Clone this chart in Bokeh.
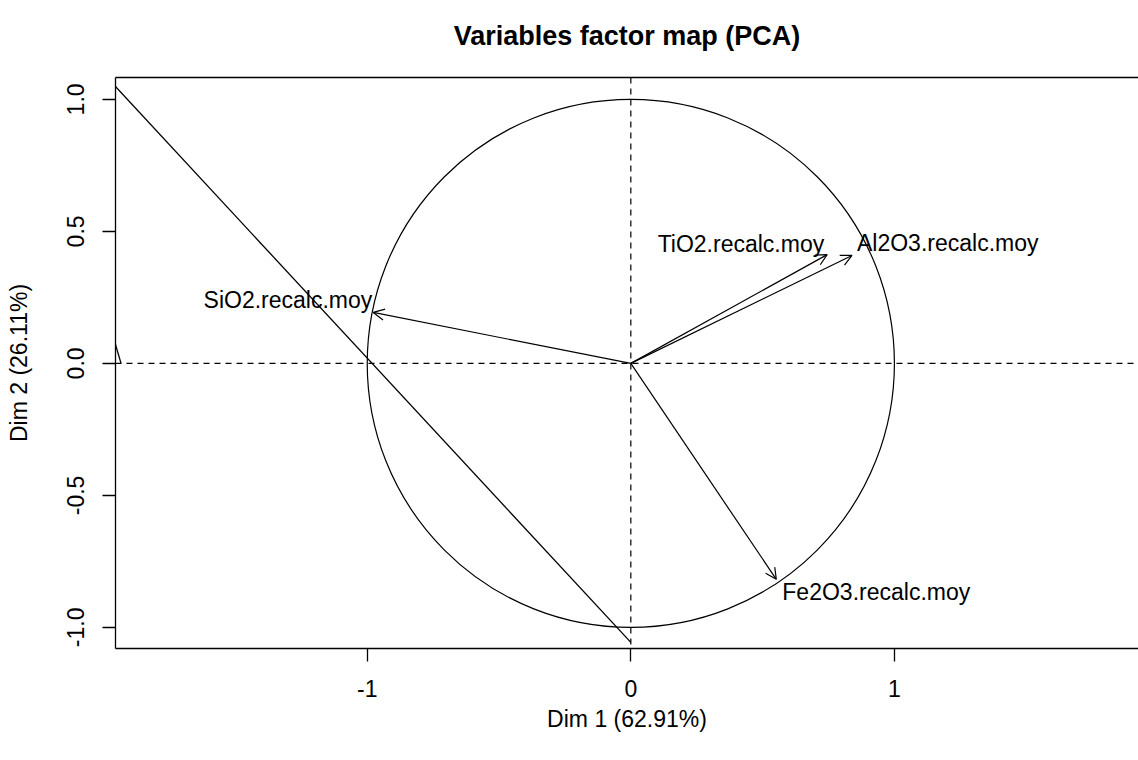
from bokeh.plotting import figure
from bokeh.models import (Range1d, Span, Arrow, OpenHead, Label, Title,
                          LinearAxis, FixedTicker)
from bokeh.embed import file_html
from bokeh.resources import INLINE

# ---- data ----
variables = ["SiO2.recalc.moy", "TiO2.recalc.moy", "Al2O3.recalc.moy", "Fe2O3.recalc.moy"]
dim1 = [-0.977, 0.745, 0.839, 0.552]
dim2 = [0.193, 0.412, 0.409, -0.818]
x_ticks = [-1, 0, 1]
y_ticks = [-1.0, -0.5, 0.0, 0.5, 1.0]
y_tick_labels = ["-1.0", "-0.5", "0.0", "0.5", "1.0"]
diag_x = [-1.96, 0.0]
diag_y = [1.054, -1.057]
stub_x = [-1.962, -1.934]
stub_y = [0.095, 0.0]
title_text = "Variables factor map (PCA)"
xlab = "Dim 1 (62.91%)"
ylab = "Dim 2 (26.11%)"

# ---- styles ----
FONT = "Liberation Sans"
FS = "23px"
label_align = ["right", "right", "left", "left"]
label_dx = [-1, -3, 5, 6]
label_dy = [12, 11, 12, -13]

p = figure(width=1138, height=752, output_backend="svg", toolbar_location=None,
           x_range=Range1d(-1.955, 1.926), y_range=Range1d(-1.080, 1.083),
           min_border_left=115, min_border_right=0, min_border_top=77,
           min_border_bottom=104)
p.xgrid.visible = False
p.ygrid.visible = False
p.outline_line_color = None
p.background_fill_color = "white"
p.border_fill_color = "white"

p.title.text = title_text
p.title.align = "center"
p.title.offset = 5
p.title.text_font = FONT
p.title.text_font_style = "bold"
p.title.text_font_size = "27px"
p.title.text_color = "black"
p.title.standoff = 37

for ax in (p.xaxis[0], p.yaxis[0]):
    ax.axis_line_color = "black"
    ax.axis_line_width = 1.3
    ax.major_tick_line_color = "black"
    ax.major_tick_line_width = 1.3
    ax.major_tick_out = 13
    ax.major_tick_in = 0
    ax.minor_tick_line_color = None
    ax.major_label_text_font = FONT
    ax.major_label_text_font_size = FS
    ax.major_label_text_color = "black"
    ax.axis_label_text_font = FONT
    ax.axis_label_text_font_style = "normal"
    ax.axis_label_text_font_size = FS
    ax.axis_label_text_color = "black"

p.xaxis[0].ticker = FixedTicker(ticks=x_ticks)
p.xaxis[0].major_label_overrides = {t: str(t) for t in x_ticks}
p.xaxis[0].major_label_standoff = 18
p.xaxis[0].axis_label = xlab
p.xaxis[0].axis_label_standoff = 6

p.yaxis[0].ticker = FixedTicker(ticks=y_ticks)
p.yaxis[0].major_label_overrides = {t: l for t, l in zip(y_ticks, y_tick_labels)}
p.yaxis[0].major_label_orientation = "vertical"
p.yaxis[0].major_label_standoff = 18
p.yaxis[0].axis_label = ylab
p.yaxis[0].axis_label_standoff = 33

# top border of the box (no ticks)
top = LinearAxis(ticker=FixedTicker(ticks=[]), axis_line_width=1.3,
                 major_label_text_font_size="0px", major_tick_line_color=None,
                 minor_tick_line_color=None, major_tick_out=0, major_tick_in=0)
p.add_layout(top, "above")
# small blank spacer between the box and the title
p.add_layout(Title(text=" ", text_font_size="6px", standoff=0), "above")

# reference lines
p.add_layout(Span(location=0, dimension="height", line_color="black",
                  line_dash="6 5", line_width=1.2))
p.add_layout(Span(location=0, dimension="width", line_color="black",
                  line_dash="6 5", line_width=1.2))

# correlation circle
p.ellipse(x=[0], y=[0], width=2, height=2, fill_color=None,
          line_color="black", line_width=1.2)

# stray lines
p.line(diag_x, diag_y, line_color="black", line_width=1.3)
p.line(stub_x, stub_y, line_color="black", line_width=1.3)

# arrows
for xv, yv in zip(dim1, dim2):
    p.add_layout(Arrow(end=OpenHead(size=11, line_width=1.2, line_color="black"),
                       x_start=0, y_start=0, x_end=xv, y_end=yv,
                       line_color="black", line_width=1.2))

# variable labels
for i, name in enumerate(variables):
    p.add_layout(Label(x=dim1[i], y=dim2[i], text=name, x_offset=label_dx[i],
                       y_offset=label_dy[i], text_align=label_align[i],
                       text_baseline="middle", text_font=FONT,
                       text_font_size=FS, text_color="black"))

open("out.html", "w").write(file_html(p, INLINE))
